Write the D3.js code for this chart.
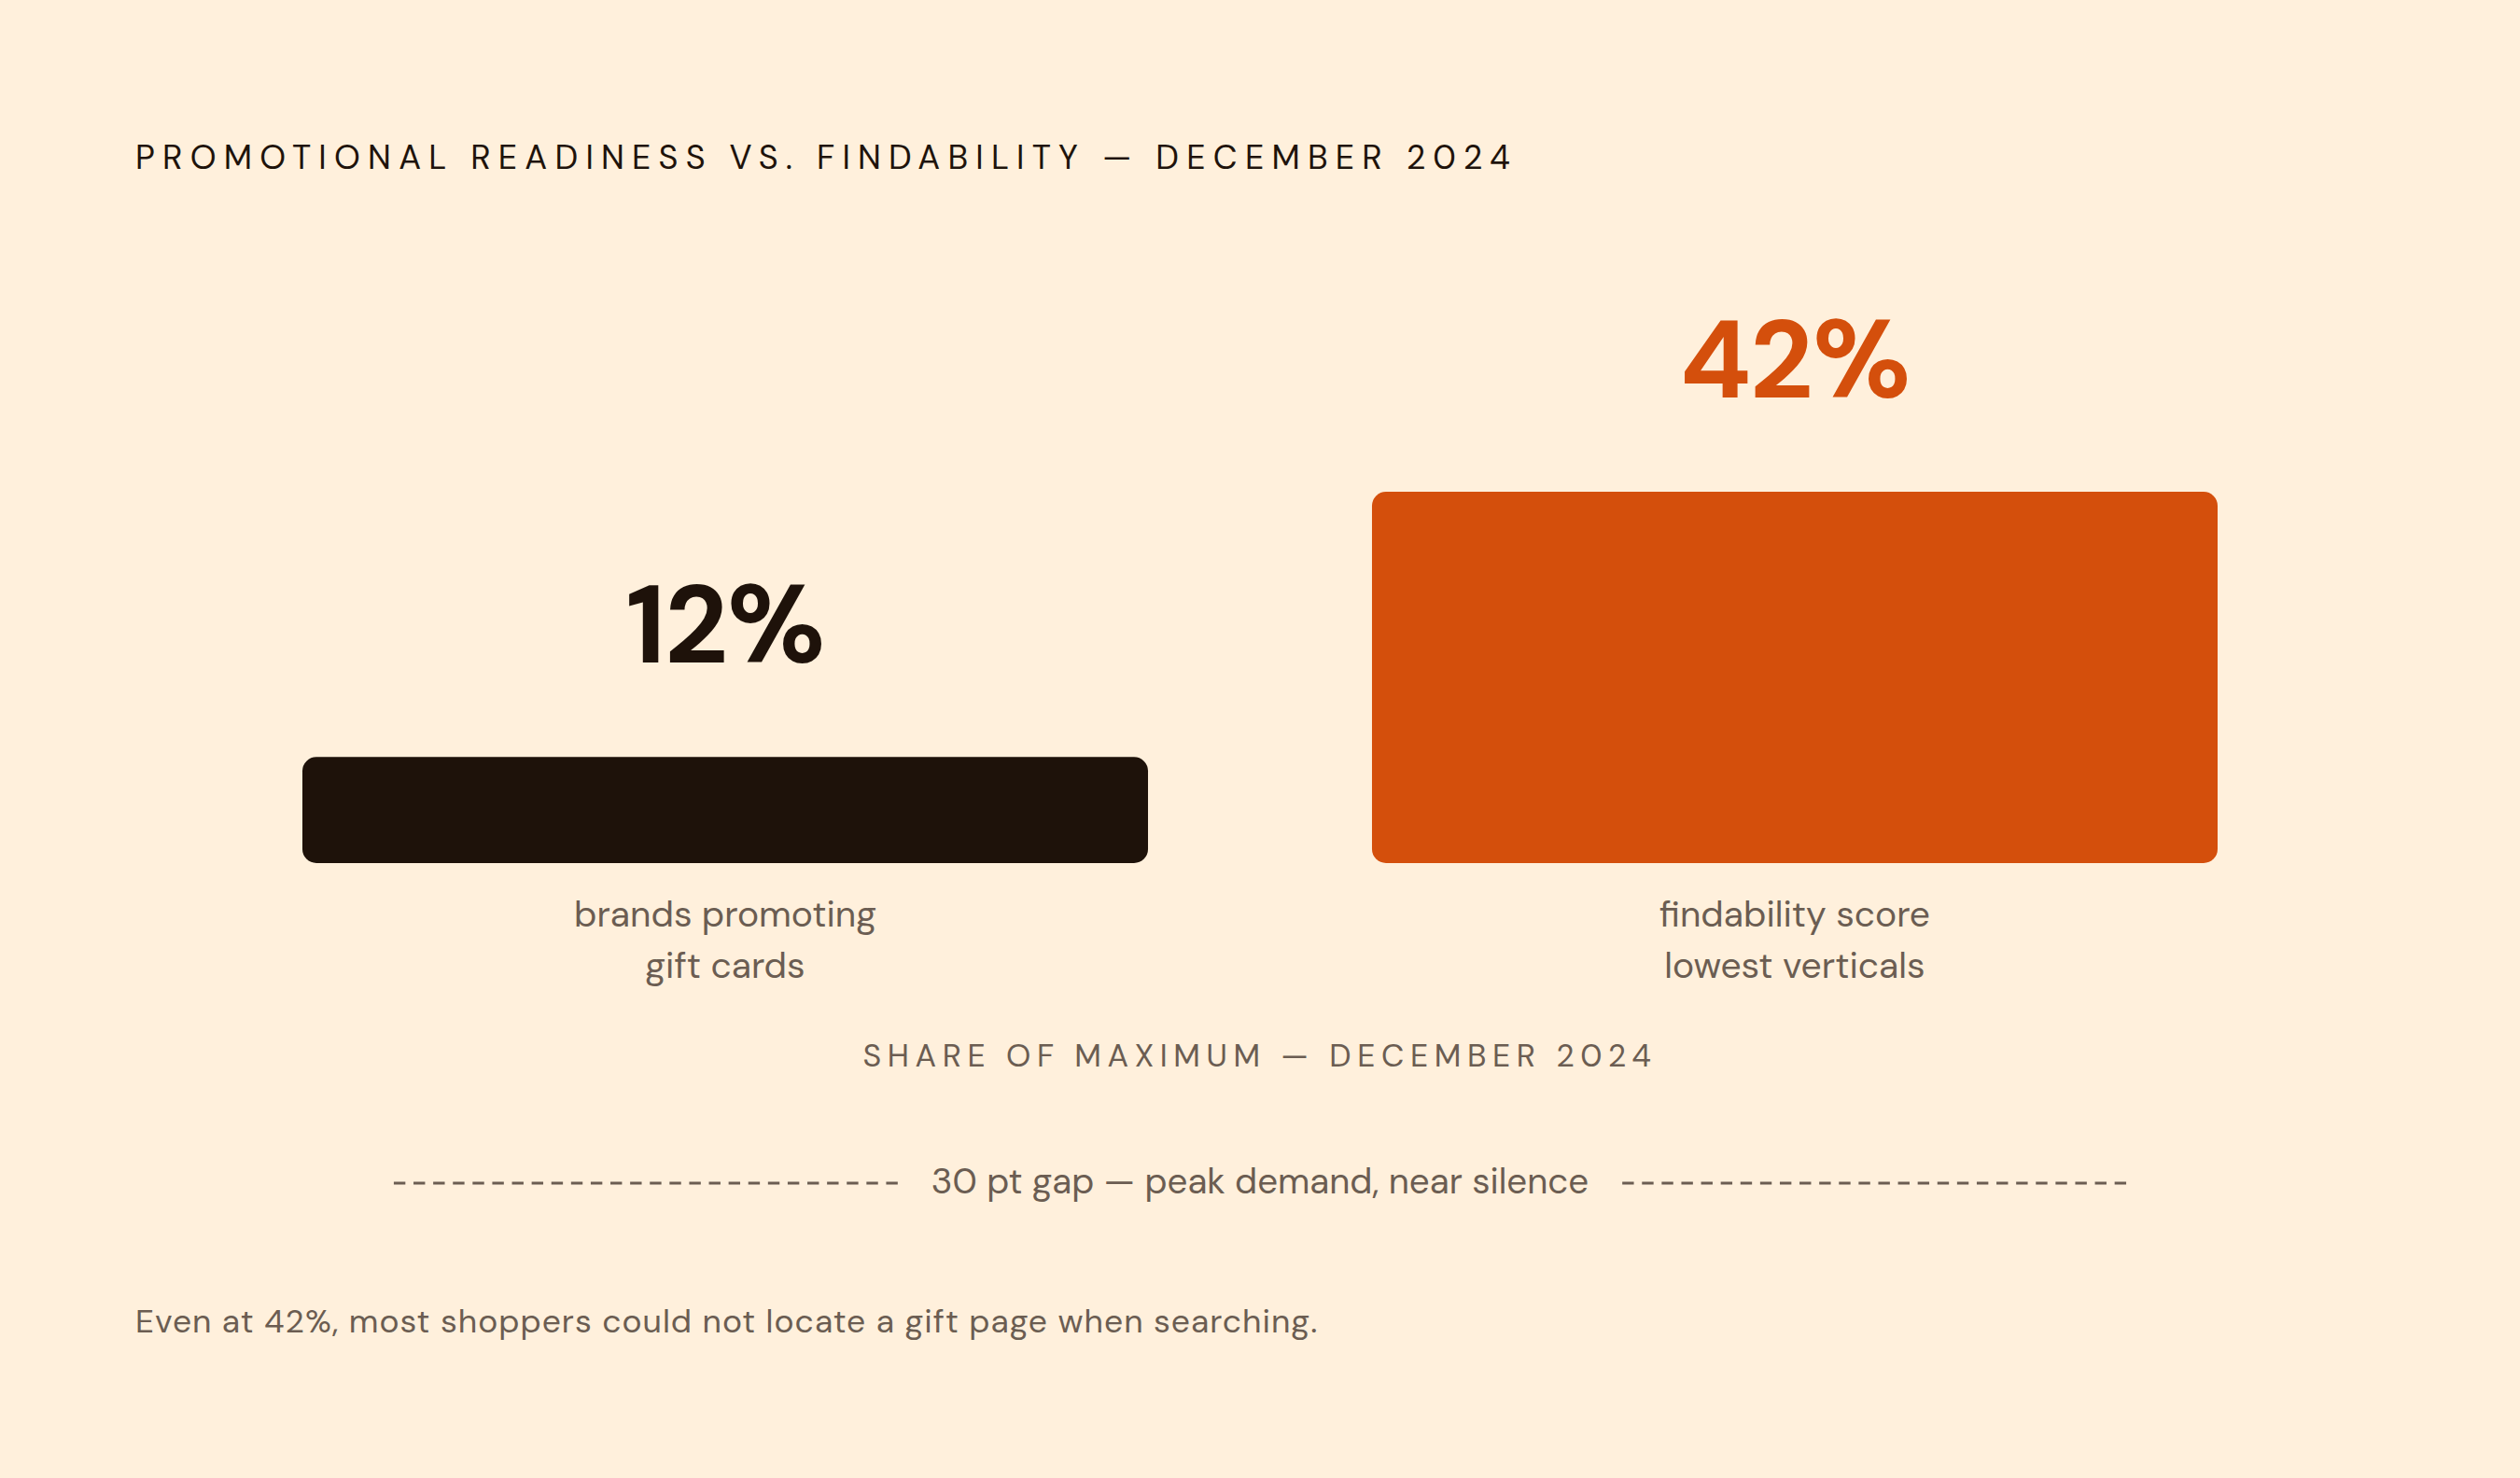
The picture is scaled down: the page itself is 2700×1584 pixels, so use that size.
<!DOCTYPE html>
<html>
<head>
<meta charset="utf-8">
<script src="https://cdn.jsdelivr.net/npm/d3@7"></script>
<style>
  html, body { margin: 0; padding: 0; background: #FFF0DC; }
  svg { display: block; font-family: "DM Sans", Inter, "Noto Sans", sans-serif; }
</style>
</head>
<body>
<script>
// values
const categories = ["gift", "findability"];
const values = [12, 42];
const valueLabels = ["12%", "42%"];
const categoryLines = [["brands promoting", "gift cards"], ["findability score", "lowest verticals"]];
const barColors = ["#1E120A", "#D44F0C"];

const titleText = "PROMOTIONAL READINESS VS. FINDABILITY \u2014 DECEMBER 2024";
const axisText = "SHARE OF MAXIMUM \u2014 DECEMBER 2024";
const gapText = "30 pt gap \u2014 peak demand, near silence";
const noteText = "Even at 42%, most shoppers could not locate a gift page when searching.";

const W = 2700, H = 1584;
const baseY = 925;

const svg = d3.select("body").append("svg")
  .attr("width", W)
  .attr("height", H);

svg.append("rect").attr("width", W).attr("height", H).attr("fill", "#FFF0DC");

// title
svg.append("text")
  .attr("x", 145)
  .attr("y", 181)
  .attr("fill", "#1E130B")
  .style("font-size", "36px")
  .style("letter-spacing", "8.2px")
  .text(titleText);

const x = d3.scaleBand()
  .domain(categories)
  .range([324, 2376])
  .paddingInner(0.2094)
  .paddingOuter(0);

const y = d3.scaleLinear()
  .domain([0, 42])
  .range([baseY, baseY - 398]);

const bars = svg.append("g")
  .selectAll("g")
  .data(categories)
  .join("g");

bars.append("rect")
  .attr("x", d => x(d))
  .attr("y", (d, i) => y(values[i]))
  .attr("width", x.bandwidth())
  .attr("height", (d, i) => y(0) - y(values[i]))
  .attr("rx", 15)
  .attr("fill", (d, i) => barColors[i]);

bars.append("text")
  .attr("x", d => x(d) + x.bandwidth() / 2)
  .attr("y", (d, i) => y(values[i]) - 101)
  .attr("text-anchor", "middle")
  .attr("fill", (d, i) => barColors[i])
  .style("font-size", "118px")
  .style("font-weight", 700)
  .style("letter-spacing", "-1.5px")
  .text((d, i) => valueLabels[i]);

bars.append("text")
  .attr("text-anchor", "middle")
  .attr("fill", "#6B5D52")
  .style("font-size", "39px")
  .selectAll("tspan")
  .data((d, i) => categoryLines[i].map(t => ({ t, cx: x(d) + x.bandwidth() / 2 })))
  .join("tspan")
  .attr("x", d => d.cx)
  .attr("y", (d, j) => 993 + j * 55)
  .text(d => d.t);

// axis caption
svg.append("text")
  .attr("x", W / 2)
  .attr("y", 1143)
  .attr("text-anchor", "middle")
  .attr("fill", "#6B5D52")
  .style("font-size", "34px")
  .style("letter-spacing", "6.6px")
  .text(axisText);

// gap annotation
const gap = svg.append("text")
  .attr("x", W / 2)
  .attr("y", 1279)
  .attr("text-anchor", "middle")
  .attr("fill", "#6B5D52")
  .style("font-size", "38.5px")
  .text(gapText);

// dashed rules either side, a whole number of dashes each
const gb = gap.node().getBBox();
const dashY = 1268, dash = 12.4, space = 8.7, nDash = 26;
const ruleLen = nDash * (dash + space) - space;
[[gb.x - 36 - ruleLen, gb.x - 36], [gb.x + gb.width + 36, gb.x + gb.width + 36 + ruleLen]].forEach(([a, b]) => {
  svg.append("line")
    .attr("x1", a).attr("x2", b)
    .attr("y1", dashY).attr("y2", dashY)
    .attr("stroke", "#6B5D52")
    .attr("stroke-width", 3)
    .attr("stroke-dasharray", dash + "," + space);
});

// footnote
svg.append("text")
  .attr("x", 145)
  .attr("y", 1428)
  .attr("fill", "#6B5D52")
  .style("font-size", "35.5px")
  .style("letter-spacing", "1px")
  .text(noteText);
</script>
</body>
</html>
